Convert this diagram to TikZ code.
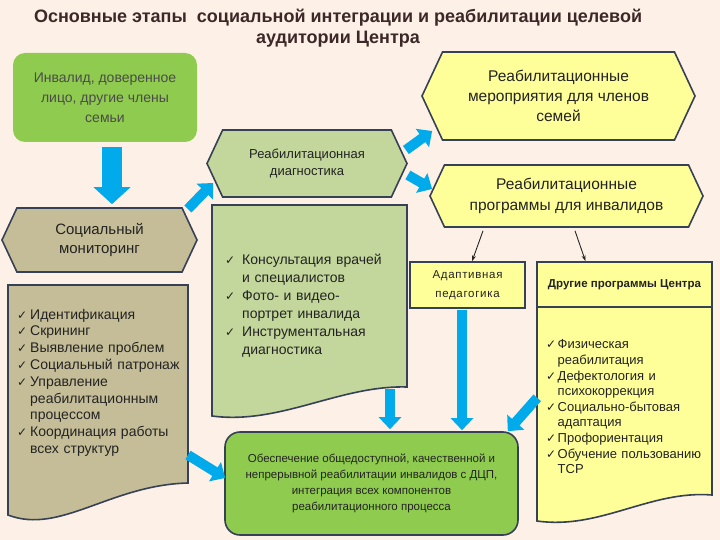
\documentclass[tikz,border=0pt]{standalone}
\usepackage{fontspec}
\setmainfont{Liberation Sans}
\newfontfamily\symfont{DejaVu Sans}
\usetikzlibrary{shapes.symbols, arrows.meta, positioning, calc}
\definecolor{pagebg}{RGB}{253, 240, 230}
\definecolor{titlebrown}{RGB}{60, 40, 40}
\definecolor{leafgreen}{RGB}{143, 203, 78}
\definecolor{sagegreen}{RGB}{195, 214, 155}
\definecolor{khaki}{RGB}{196, 189, 151}
\definecolor{paleyellow}{RGB}{255, 255, 153}
\definecolor{slate}{RGB}{55, 65, 85}
\definecolor{skyblue}{RGB}{0, 170, 235}
\definecolor{darktext}{RGB}{35, 35, 35}
\definecolor{softtext}{RGB}{75, 75, 75}
\newcommand{\chk}[1]{\par\hangindent=#1\hangafter=1\noindent\makebox[#1][l]{\symfont\fontsize{12}{12}\selectfont ✓}}

\begin{document}
\begin{tikzpicture}[x=1pt, y=-1pt,
    hexbox/.style={signal, signal to=west and east, signal pointer angle=130, draw=slate, line width=1.6pt, align=center, inner sep=0pt, text=darktext},
    plainbox/.style={draw=slate, line width=1.6pt, align=center, inner sep=0pt, text=darktext},
    docbox/.style={draw=slate, line width=1.6pt},
    listtext/.style={anchor=north west, inner sep=0pt, align=left, text=darktext},
    bigarrow/.style={skyblue, line width=20pt, -{Triangle[width=36pt,length=17pt]}},
    midarrow/.style={skyblue, line width=10pt, -{Triangle[width=22pt,length=12pt]}},
    thinarrow/.style={-{Stealth[length=6pt,width=4pt]}, line width=0.9pt, black!85}
]
    \fill[pagebg] (0,0) rectangle (720,540);
    \useasboundingbox (0,0) rectangle (720,540);

    % Title
    \node[font=\bfseries\fontsize{18}{21}\selectfont, text=titlebrown, align=center] (title) at (338,28)
        {Основные этапы\ \ социальной интеграции и реабилитации целевой\\аудитории Центра};

    % Family
    \node[rounded corners=12pt, fill=leafgreen, minimum width=184pt, minimum height=89pt, align=center,
          text=softtext, font=\fontsize{14}{20}\selectfont] (patient) at (105,97.5)
        {Инвалид, доверенное\\лицо, другие члены\\семьи};

    % Hexagons
    \node[hexbox, fill=khaki, minimum width=195pt, minimum height=64pt, font=\fontsize{15}{19}\selectfont] (monitor) at (99.5,240)
        {Социальный\\мониторинг};
    \node[hexbox, fill=sagegreen, minimum width=200pt, minimum height=67pt, font=\fontsize{13}{17}\selectfont] (diag) at (307,163.5)
        {Реабилитационная\\диагностика};
    \node[hexbox, fill=paleyellow, minimum width=273pt, minimum height=88pt, font=\fontsize{15.5}{20}\selectfont] (family) at (558.5,96)
        {Реабилитационные\\мероприятия для членов\\семей};
    \node[hexbox, fill=paleyellow, minimum width=273pt, minimum height=62pt, font=\fontsize{15.5}{21}\selectfont] (progs) at (566.5,196)
        {Реабилитационные\\программы для инвалидов};

    % Monitoring list
    \coordinate (ml-ne) at (188,285);
    \draw[docbox, fill=khaki] (8,285) -- (ml-ne) -- (188,483) .. controls (110,485) and (60,535) .. (8,515) -- cycle;
    \node[listtext, text width=172pt, font=\fontsize{14}{16.8}\selectfont] (monitems) at (17,302)
        {\chk{13pt}Идентификация
         \chk{13pt}Скрининг
         \chk{13pt}Выявление проблем
         \chk{13pt}Социальный патронаж
         \chk{13pt}Управление\newline реабилитационным\newline процессом
         \chk{13pt}Координация работы\newline всех структур\par};

    % Diagnostics list
    \coordinate (dl-se) at (407,387);
    \draw[docbox, fill=sagegreen] (212,205) -- (407,205) -- (dl-se) .. controls (340,385) and (280,425) .. (212,416) -- cycle;
    \node[listtext, text width=180pt, font=\fontsize{14}{18}\selectfont] (diagitems) at (225,246)
        {\chk{17pt}Консультация врачей\newline и специалистов
         \chk{17pt}Фото- и видео-\newline портрет инвалида
         \chk{17pt}Инструментальная\newline диагностика\par};

    % Programs
    \node[plainbox, fill=paleyellow, minimum width=115pt, minimum height=46pt, line width=1.3pt,
          font=\fontsize{11.5}{19}\selectfont\addfontfeature{LetterSpace=6}] (adapt) at (467.5,285)
        {Адаптивная\\педагогика};
    \draw[docbox, fill=paleyellow] (537,307) -- (712,307) -- (712,495) .. controls (650,490) and (600,530) .. (537,521) -- cycle;
    \node[plainbox, fill=paleyellow, minimum width=175pt, minimum height=45pt, font=\bfseries\fontsize{11.5}{14}\selectfont] (other) at (624.5,284.5)
        {Другие программы Центра};
    \node[listtext, text width=162pt, font=\fontsize{13}{15.6}\selectfont] (otheritems) at (546,333)
        {\chk{11.5pt}Физическая\newline реабилитация
         \chk{11.5pt}Дефектология и\newline психокоррекция
         \chk{11.5pt}Социально-бытовая\newline адаптация
         \chk{11.5pt}Профориентация
         \chk{11.5pt}Обучение пользованию\newline ТСР\par};

    % Goal
    \node[plainbox, rounded corners=15pt, fill=leafgreen, minimum width=293pt, minimum height=103pt,
          font=\fontsize{11.5}{16}\selectfont] (goal) at (371.5,483.5)
        {Обеспечение общедоступной, качественной и\\непрерывной реабилитации инвалидов с ДЦП,\\интеграция всех компонентов\\реабилитационного процесса};

    % Arrows
    \draw[bigarrow] ([shift={(7,5)}]patient.south) -- ([shift={(12.5,-3)}]monitor.north);
    \draw[midarrow] ([shift={(-10,-31)}]monitor.east) -- ([shift={(7,19.5)}]diag.west);
    \draw[midarrow] ([shift={(-2,-13.5)}]diag.east) -- ([shift={(11,35)}]family.west);
    \draw[midarrow] ([shift={(0,11.5)}]diag.east) -- ([shift={(3,-7)}]progs.west);
    \draw[midarrow] ([shift={(-17,2)}]dl-se) -- ([shift={(18.5,-2)}]goal.north);
    \draw[midarrow] ([shift={(-5.5,1)}]adapt.south) -- ([shift={(90.5,-1)}]goal.north);
    \draw[midarrow] ([shift={(1,90)}]other.south west) -- ([shift={(-11,0)}]goal.north east);
    \draw[midarrow] ([shift={(0,170)}]ml-ne) -- ([shift={(1,-5.5)}]goal.west);
    \draw[thinarrow] ([shift={(-83.5,3)}]progs.south) -- ([shift={(4.5,0)}]adapt.north);
    \draw[thinarrow] ([shift={(8.5,3)}]progs.south) -- ([shift={(-39,0)}]other.north);
\end{tikzpicture}
\end{document}
